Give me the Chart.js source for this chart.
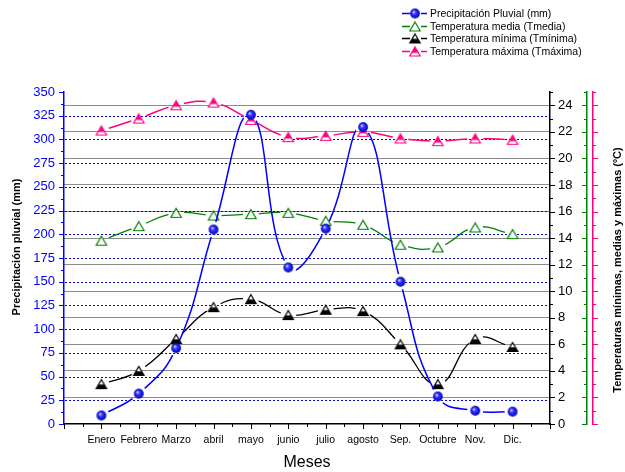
<!DOCTYPE html>
<html>
<head>
<meta charset="utf-8">
<script src="https://cdn.jsdelivr.net/npm/chart.js@4.4.1/dist/chart.umd.min.js"></script>
<style>
  html, body { margin: 0; padding: 0; background: #fff; }
  canvas { display: block; }
</style>
</head>
<body>
<canvas id="chart" width="625" height="472"></canvas>
<script>
// months on the x axis (Enero = 1 ... Dic. = 12)
const months = ['Enero', 'Febrero', 'Marzo', 'abril', 'mayo', 'junio', 'julio', 'agosto', 'Sep.', 'Octubre', 'Nov.', 'Dic.'];

// series
const precipitacion = [9, 32, 80, 205, 326, 165, 206, 313, 150, 29, 14, 13];   // mm, left axis
const tMedia = [13.8, 14.9, 15.9, 15.7, 15.8, 15.9, 15.3, 15.0, 13.5, 13.3, 14.8, 14.3];
const tMinima = [3.0, 4.0, 6.4, 8.8, 9.4, 8.2, 8.6, 8.5, 6.0, 3.0, 6.4, 5.8];
const tMaxima = [22.1, 23.0, 24.0, 24.2, 22.9, 21.6, 21.7, 22.0, 21.5, 21.3, 21.5, 21.4];

const seriesNames = [
    'Precipitación Pluvial (mm)',
    'Temperatura media (Tmedia)',
    'Temperatura mínima (Tmínima)',
    'Temperatura máxima (Tmáxima)'
];
const leftTitle = 'Precipitación pluvial (mm)';
const rightTitle = 'Temperaturas mínimas, medias y máximas (ºC)';
const bottomTitle = 'Meses';

const FONT = '"Liberation Sans", Arial, Helvetica, sans-serif';
const BLUE = '#0000ff';
const GREEN = '#008000';
const PINK = '#ff0080';
const BLACK = '#000000';
const GRAY = '#8c8c8c';
const GAP = 8; // gap left in each line around its own markers

/**
 * Build a small symbol canvas used as a point style (Origin-like markers).
 */
function symbol(draw) {
    const c = document.createElement('canvas');
    c.width = 14;
    c.height = 14;
    draw(c.getContext('2d'));
    return c;
}

function triangle(ctx, fill, stroke) {
    ctx.beginPath();
    ctx.moveTo(7, 2.5);
    ctx.lineTo(12.2, 11.5);
    ctx.lineTo(1.8, 11.5);
    ctx.closePath();
    ctx.fillStyle = fill;
    ctx.fill();
    ctx.lineWidth = 1.2;
    ctx.strokeStyle = stroke;
    ctx.stroke();
}

const sphere = symbol((ctx) => {
    const g = ctx.createRadialGradient(5.6, 5.4, 0.3, 7, 7, 5);
    g.addColorStop(0, '#d8d8ff');
    g.addColorStop(0.35, '#3535ff');
    g.addColorStop(1, '#0000b8');
    ctx.beginPath();
    ctx.arc(7, 7, 4.9, 0, Math.PI * 2);
    ctx.fillStyle = g;
    ctx.fill();
});

const triGreen = symbol((ctx) => triangle(ctx, '#ffffff', GREEN));

const triBlack = symbol((ctx) => {
    const g = ctx.createLinearGradient(0, 2.5, 0, 11.5);
    g.addColorStop(0, '#ffffff');
    g.addColorStop(0.45, '#ffffff');
    g.addColorStop(0.6, BLACK);
    g.addColorStop(1, BLACK);
    triangle(ctx, g, BLACK);
});

const triPink = symbol((ctx) => {
    const g = ctx.createLinearGradient(0, 2.5, 0, 11.5);
    g.addColorStop(0, PINK);
    g.addColorStop(0.6, PINK);
    g.addColorStop(0.72, '#ffffff');
    g.addColorStop(1, '#ffffff');
    triangle(ctx, g, PINK);
});

const toPoints = (arr) => arr.map((v, i) => ({ x: i + 1, y: v }));

function series(label, values, color, width, marker, axis) {
    return {
        label,
        data: toPoints(values),
        yAxisID: axis,
        borderColor: color,
        backgroundColor: color,
        borderWidth: width,
        pointStyle: marker,
        pointRadius: 5,
        pointHoverRadius: 5,
        tension: 0.45,
        fill: false
    };
}

// each line is drawn with small gaps around its own markers
const lineGaps = {
    id: 'lineGaps',
    beforeDatasetDraw(chart, args) {
        const line = args.meta.dataset;

        if (!line || line._gapped) {
            return;
        }
        line._gapped = true;

        const draw = line.draw.bind(line);
        line.draw = (ctx, ...rest) => {
            ctx.save();
            ctx.beginPath();
            ctx.rect(0, 0, chart.width, chart.height);
            args.meta.data.forEach((pt) => {
                ctx.moveTo(pt.x + GAP, pt.y);
                ctx.arc(pt.x, pt.y, GAP, 0, Math.PI * 2);
            });
            ctx.clip('evenodd');
            draw(ctx, ...rest);
            ctx.restore();
        };
    }
};

// dotted grid of the precipitation axis, one line per tick of that scale
const dottedGrid = {
    id: 'dottedGrid',
    beforeDatasetsDraw(chart) {
        const { ctx, chartArea } = chart;
        const s = chart.scales.y;

        ctx.save();
        ctx.strokeStyle = BLUE;
        ctx.lineWidth = 1;
        ctx.setLineDash([2, 2]);
        ctx.beginPath();

        s.ticks.forEach((t) => {
            if (t.value <= s.min || t.value >= s.max) {
                return;
            }
            const y = Math.round(s.getPixelForValue(t.value)) + 0.5;
            ctx.moveTo(chartArea.left + 1, y);
            ctx.lineTo(chartArea.right, y);
        });

        ctx.stroke();
        ctx.restore();
    }
};

// major / minor tick marks for every axis, drawn from the library's scales
const axisTicks = {
    id: 'axisTicks',
    afterDraw(chart, args, opts) {
        const { ctx } = chart;

        for (const [id, t] of Object.entries(opts.axes)) {
            const s = chart.scales[id];
            const n = Math.round((s.max - s.min) / t.minor);

            ctx.save();
            ctx.strokeStyle = t.color;
            ctx.lineWidth = 1;
            ctx.beginPath();

            for (let i = 0; i <= n; i++) {
                const v = s.min + i * t.minor;
                const isMajor = Math.abs(v / t.major - Math.round(v / t.major)) < 1e-6;
                const len = (isMajor ? 5 : 3) * t.side;
                const p = Math.round(s.getPixelForValue(v)) + 0.5;

                if (s.isHorizontal()) {
                    ctx.moveTo(p, s.top);
                    ctx.lineTo(p, s.top + len);
                } else {
                    const x0 = s.position === 'left' ? s.right : s.left;
                    ctx.moveTo(x0, p);
                    ctx.lineTo(x0 + len, p);
                }
            }

            ctx.stroke();
            ctx.restore();
        }
    }
};

// legend (line - marker - line + text) and the two rotated axis titles
const decorations = {
    id: 'decorations',
    afterDraw(chart) {
        const { ctx } = chart;

        ctx.save();
        ctx.font = `10.5px ${FONT}`;
        ctx.textBaseline = 'middle';
        ctx.textAlign = 'left';

        chart.data.datasets.forEach((ds, i) => {
            const y = Math.round(13.3 + i * 12.45) + 0.5;

            ctx.strokeStyle = ds.borderColor;
            ctx.lineWidth = 1.5;
            ctx.beginPath();
            ctx.moveTo(402, y);
            ctx.lineTo(410, y);
            ctx.moveTo(421, y);
            ctx.lineTo(427, y);
            ctx.stroke();
            ctx.drawImage(ds.pointStyle, 415 - 7, y - 7);

            ctx.fillStyle = BLACK;
            ctx.fillText(ds.label, 430, y + 0.5);
        });

        ctx.font = `bold 11px ${FONT}`;
        ctx.textAlign = 'center';

        ctx.save();
        ctx.translate(17, 247);
        ctx.rotate(-Math.PI / 2);
        ctx.fillText(leftTitle, 0, 0);
        ctx.restore();

        ctx.save();
        ctx.translate(618, 270);
        ctx.rotate(-Math.PI / 2);
        ctx.fillText(rightTitle, 0, 0);
        ctx.restore();

        ctx.restore();
    }
};

const tempAxis = (width, color, weight) => ({
    type: 'linear',
    position: 'right',
    weight,
    min: 0,
    max: 25,
    afterFit: (s) => { s.width = width; },
    border: { color, width: 1.5 },
    grid: { drawOnChartArea: false, drawTicks: false },
    ticks: { display: false, stepSize: 2 }
});

new Chart(document.getElementById('chart'), {
    type: 'line',
    data: {
        datasets: [
            series(seriesNames[0], precipitacion, BLUE, 1.5, sphere, 'y'),
            series(seriesNames[1], tMedia, GREEN, 1.3, triGreen, 'yT'),
            series(seriesNames[2], tMinima, BLACK, 1.3, triBlack, 'yT'),
            series(seriesNames[3], tMaxima, PINK, 1.5, triPink, 'yT')
        ]
    },
    options: {
        responsive: false,
        animation: false,
        events: [],
        layout: { padding: { top: 92, left: 0, right: 0, bottom: 0 } },
        plugins: {
            legend: { display: false },
            tooltip: { enabled: false },
            axisTicks: {
                axes: {
                    x: { major: 1, minor: 0.5, side: 1, color: BLACK },
                    y: { major: 25, minor: 12.5, side: -1, color: BLUE },
                    yT: { major: 2, minor: 1, side: 1, color: BLACK },
                    yG: { major: 2, minor: 1, side: -1, color: GREEN },
                    yP: { major: 2, minor: 1, side: 1, color: PINK }
                }
            }
        },
        scales: {
            x: {
                type: 'linear',
                position: 'bottom',
                min: 0,
                max: 13,
                afterFit: (s) => { s.height = 48; },
                border: { color: BLACK, width: 1.5 },
                grid: { drawOnChartArea: false, drawTicks: false },
                ticks: {
                    stepSize: 1,
                    autoSkip: false,
                    maxRotation: 0,
                    padding: 10,
                    color: BLACK,
                    font: { family: FONT, size: 10.5 },
                    callback: (v) => months[v - 1] || ''
                },
                title: {
                    display: true,
                    text: bottomTitle,
                    color: BLACK,
                    font: { family: FONT, size: 16 },
                    padding: { top: 0, bottom: 0 }
                }
            },
            y: {
                type: 'linear',
                position: 'left',
                min: 0,
                max: 350,
                afterFit: (s) => { s.width = 64; },
                border: { color: BLUE, width: 1.5 },
                grid: { drawOnChartArea: false, drawTicks: false },
                ticks: {
                    stepSize: 25,
                    padding: 9,
                    color: BLUE,
                    font: { family: FONT, size: 13 }
                }
            },
            yT: {
                type: 'linear',
                position: 'right',
                weight: 0,
                min: 0,
                max: 25,
                afterFit: (s) => { s.width = 37; },
                border: { color: BLACK, width: 1.5 },
                grid: {
                    color: (c) => (c.tick && c.tick.value > 0) ? GRAY : 'rgba(0,0,0,0)',
                    lineWidth: 1,
                    drawTicks: false
                },
                ticks: {
                    stepSize: 2,
                    includeBounds: false,
                    padding: 8,
                    color: BLACK,
                    font: { family: FONT, size: 13 }
                }
            },
            yG: tempAxis(6, GREEN, 1),
            yP: tempAxis(32, PINK, 2)
        }
    },
    plugins: [lineGaps, dottedGrid, axisTicks, decorations]
});
</script>
</body>
</html>
